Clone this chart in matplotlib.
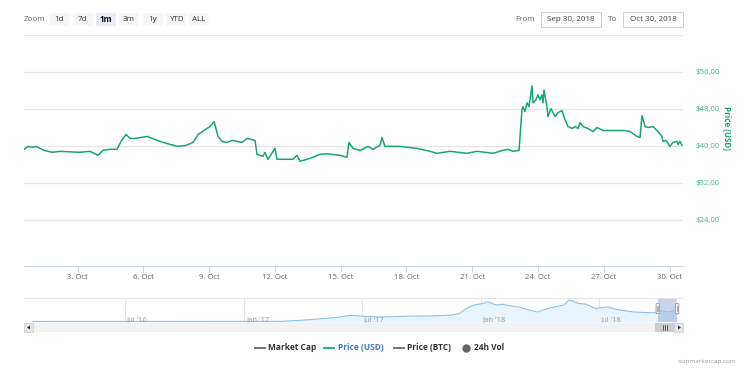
import matplotlib
matplotlib.use("Agg")
import matplotlib.pyplot as plt
import matplotlib.dates as mdates
from matplotlib.patches import FancyBboxPatch, Rectangle, Polygon
from matplotlib.lines import Line2D
from matplotlib.ticker import FixedLocator, FuncFormatter
import pandas as pd

plt.rcParams['font.family'] = ['Open Sans', 'DejaVu Sans']

# price (USD), 30 Sep - 30 Oct 2018
price_times = [
    "09-30 13:24", "09-30 17:48", "09-30 22:12", "10-01 02:36", "10-01 07:00", "10-01 11:18",
    "10-01 20:06", "10-02 04:48", "10-02 15:48", "10-03 02:42", "10-03 13:42", "10-03 22:24",
    "10-04 03:54", "10-04 11:36", "10-04 19:12", "10-04 23:36", "10-05 05:06", "10-05 09:30",
    "10-05 14:54", "10-06 04:06", "10-06 18:18", "10-07 05:12", "10-07 14:00", "10-07 22:42",
    "10-08 06:24", "10-08 11:54", "10-08 18:24", "10-09 01:00", "10-09 05:24", "10-09 09:48",
    "10-09 14:06", "10-09 19:36", "10-10 01:06", "10-10 12:00", "10-10 17:30", "10-11 02:18",
    "10-11 04:24", "10-11 11:00", "10-11 13:12", "10-11 16:30", "10-12 00:06", "10-12 02:18",
    "10-12 11:06", "10-12 19:48", "10-13 00:12", "10-13 03:30", "10-13 11:12", "10-13 17:42",
    "10-14 01:24", "10-14 09:00", "10-14 23:18", "10-15 06:54", "10-15 09:06", "10-15 13:30",
    "10-15 21:12", "10-16 05:54", "10-16 11:24", "10-16 19:06", "10-16 21:12", "10-17 00:30",
    "10-17 16:54", "10-18 11:30", "10-19 01:48", "10-19 09:24", "10-19 23:36", "10-20 18:12",
    "10-21 05:12", "10-21 22:42", "10-22 09:36", "10-22 15:06", "10-22 20:36", "10-23 03:12",
    "10-23 06:24", "10-23 07:30", "10-23 09:42", "10-23 11:54", "10-23 14:06", "10-23 17:24",
    "10-23 18:30", "10-23 21:48", "10-23 23:54", "10-24 02:06", "10-24 04:18", "10-24 05:24",
    "10-24 06:30", "10-24 09:48", "10-24 10:54", "10-24 14:12", "10-24 16:24", "10-24 18:36",
    "10-24 21:54", "10-25 02:12", "10-25 05:30", "10-25 08:48", "10-25 13:12", "10-25 16:30",
    "10-25 19:48", "10-25 21:54", "10-26 01:12", "10-26 06:42", "10-26 12:12", "10-26 16:30",
    "10-26 23:06", "10-27 12:12", "10-27 23:12", "10-28 04:36", "10-28 12:18", "10-28 15:36",
    "10-28 17:48", "10-28 21:06", "10-29 00:24", "10-29 05:48", "10-29 11:18", "10-29 15:42",
    "10-29 16:48", "10-29 20:06", "10-30 00:24", "10-30 03:42", "10-30 08:06", "10-30 09:12",
    "10-30 11:24", "10-30 13:36",
]
price_usd = [
    39.25, 39.89, 39.68, 39.89, 39.46, 39.03,
    38.61, 38.82, 38.71, 38.61, 38.82, 37.96,
    39.03, 39.25, 39.25, 40.97, 42.47, 41.61,
    41.61, 42.04, 40.97, 40.32, 39.89, 40.11,
    40.75, 42.47, 43.33, 44.18, 45.26, 42.04,
    40.97, 40.75, 41.18, 40.75, 41.61, 41.18,
    38.18, 37.75, 38.61, 37.10, 39.46, 37.10,
    37.10, 37.10, 37.96, 36.67, 37.10, 37.53,
    38.18, 38.28, 37.96, 37.53, 40.75, 39.46,
    39.03, 39.89, 39.25, 40.11, 41.82, 39.89,
    39.89, 39.46, 38.82, 38.39, 38.82, 38.39,
    38.82, 38.39, 39.03, 39.25, 38.82, 39.03,
    47.83, 48.48, 47.40, 49.33, 48.48, 52.98,
    49.33, 49.98, 51.05, 49.98, 51.05, 49.33,
    52.12, 48.48, 46.33, 48.05, 47.19, 46.33,
    47.19, 47.62, 45.69, 44.18, 43.76, 44.18,
    43.76, 45.04, 44.18, 43.76, 43.11, 43.97,
    43.33, 43.33, 43.33, 43.11, 42.04, 41.82,
    46.55, 44.18, 43.97, 44.18, 43.11, 42.04,
    40.97, 41.18, 39.89, 40.75, 40.97, 40.32,
    40.97, 40.11,
]

# navigator (full history)
nav_dates = [
    "2016-02-10", "2016-07-01", "2017-01-01", "2017-03-01", "2017-04-14", "2017-05-21",
    "2017-06-15", "2017-07-04", "2017-08-02", "2017-09-08", "2017-10-15", "2017-11-13",
    "2017-11-28", "2017-12-09", "2017-12-20", "2018-01-04", "2018-01-11", "2018-01-25",
    "2018-02-02", "2018-02-17", "2018-03-03", "2018-03-18", "2018-03-29", "2018-04-09",
    "2018-04-24", "2018-05-08", "2018-05-17", "2018-05-31", "2018-06-11", "2018-06-27",
    "2018-07-14", "2018-07-29", "2018-08-23", "2018-09-22", "2018-10-06", "2018-10-17",
    "2018-10-30",
]
nav_price = [
    2.0, 2.2, 2.3, 2.4, 8.5, 15.7,
    24.0, 20.6, 18.0, 20.6, 21.8, 24.2,
    30.0, 48.0, 60.0, 66.5, 72.6, 60.5,
    64.0, 57.0, 52.0, 42.0, 36.0, 45.0,
    54.0, 60.5, 79.0, 66.5, 64.0, 48.4,
    54.0, 45.0, 36.0, 32.7, 40.0, 36.0,
    42.0,
]
nav_labels = ["Jul '16", "Jan '17", "Jul '17", "Jan '18", "Jul '18"]
nav_label_dates = ["2016-07-01", "2017-01-01", "2017-07-01", "2018-01-01", "2018-07-01"]

y_ticks = [24, 32, 40, 48, 56]
x_tick_days = [3, 6, 9, 12, 15, 18, 21, 24, 27, 30]
zoom_buttons = ["1d", "7d", "1m", "3m", "1y", "YTD", "ALL"]
selected_button = "1m"
date_from = "Sep 30, 2018"
date_to = "Oct 30, 2018"
legend_items = ["Market Cap", "Price (USD)", "Price (BTC)", "24h Vol"]

GREEN = "#17a47b"
W, H = 750, 370


def fx(x):
    return x / W


def fy(y):
    return 1 - y / H


fig = plt.figure(figsize=(7.5, 3.7), dpi=100)

# ---- main chart ----
ax = fig.add_axes([fx(24), fy(266), fx(683) - fx(24), fy(35) - fy(266)])
t = pd.to_datetime(["2018-" + s for s in price_times])
ax.plot(t, price_usd, color=GREEN, lw=1.1, solid_joinstyle="round")
ax.set_xlim(pd.Timestamp("2018-09-30 13:24"), pd.Timestamp("2018-10-30 14:40"))
ax.set_ylim(14, 64)
ax.set_yticks(y_ticks + [64])
ax.yaxis.grid(True, color="#e6e6e6", lw=0.9)
ax.set_axisbelow(True)
ax.yaxis.tick_right()
ax.tick_params(axis="y", length=0, pad=9, labelsize=5.6, labelcolor="#48b48f")
ax.yaxis.set_major_formatter(FuncFormatter(lambda v, p: "" if v == 64 else "$%d,00" % v))
xt = [pd.Timestamp(2018, 10, d) for d in x_tick_days]
ax.xaxis.set_major_locator(FixedLocator(mdates.date2num(xt)))
ax.xaxis.set_major_formatter(FuncFormatter(lambda v, p: "%d. Oct" % mdates.num2date(v).day))
ax.tick_params(axis="x", length=4, width=0.8, color="#ccd6eb", labelsize=5.6,
               labelcolor="#666666", pad=2)
for s in ["top", "left", "right"]:
    ax.spines[s].set_visible(False)
ax.spines["bottom"].set_color("#ccd6eb")
fig.text(fx(727), fy(128), "Price (USD)", rotation=270, ha="center", va="center",
         fontsize=5.8, fontweight="bold", color=GREEN)

# ---- navigator ----
nav = fig.add_axes([fx(24), fy(322), fx(683) - fx(24), fy(298) - fy(322)])
nd = pd.to_datetime(nav_dates)
nav.fill_between(nd, nav_price, 0, color="#e9f3fc", lw=0)
nav.plot(nd, nav_price, color="#8cc1ef", lw=0.8)
nav.set_xlim(pd.Timestamp("2016-01-28"), pd.Timestamp("2018-11-08"))
nav.set_ylim(0, 86)
nav.set_xticks([])
nav.set_yticks([])
for s in ["left", "right", "bottom"]:
    nav.spines[s].set_visible(False)
nav.spines["top"].set_color("#e6e6e6")
for lab, d in zip(nav_labels, nav_label_dates):
    nav.axvline(pd.Timestamp(d), color="#e6e6e6", lw=0.8, zorder=0)
    nav.text(pd.Timestamp(d) + pd.Timedelta(days=3), 7, lab, fontsize=5.4, color="#999999",
             ha="left", va="center")
nav.axvspan(pd.Timestamp("2018-09-30"), pd.Timestamp("2018-10-30"),
            color=(102 / 255, 133 / 255, 194 / 255, 0.35), lw=0)
for hx in [pd.Timestamp("2018-09-30"), pd.Timestamp("2018-10-30")]:
    hxn = mdates.date2num(hx)
    handle = FancyBboxPatch((hxn - 2.5, 30), 5, 36, boxstyle="round,pad=0,rounding_size=1",
                            fc="#f2f2f2", ec="#999999", lw=0.6, zorder=5,
                            mutation_aspect=1)
    nav.add_patch(handle)
    for off in (-0.9, 0.9):
        nav.plot([hxn + off, hxn + off], [40, 56], color="#999999", lw=0.5, zorder=6)

# ---- scrollbar ----
fig.add_artist(Rectangle((fx(24), fy(332)), fx(683) - fx(24), fy(323) - fy(332),
                         transform=fig.transFigure, fc="#f2f2f2", ec="none"))
fig.add_artist(Rectangle((fx(655), fy(332)), fx(674) - fx(655), fy(323) - fy(332),
                         transform=fig.transFigure, fc="#cccccc", ec="none"))
for lx in (663, 665, 667):
    fig.add_artist(Line2D([fx(lx), fx(lx)], [fy(330), fy(325)], transform=fig.transFigure,
                          color="#333333", lw=0.5))
for bx in (24, 674):
    fig.add_artist(Rectangle((fx(bx), fy(332)), fx(9), fy(323) - fy(332),
                             transform=fig.transFigure, fc="#e6e6e6", ec="#cccccc", lw=0.5))
fig.add_artist(Polygon([(fx(27), fy(327.5)), (fx(30), fy(325.5)), (fx(30), fy(329.5))],
                       closed=True, transform=fig.transFigure, fc="#333333", ec="none"))
fig.add_artist(Polygon([(fx(681), fy(327.5)), (fx(678), fy(325.5)), (fx(678), fy(329.5))],
                       closed=True, transform=fig.transFigure, fc="#333333", ec="none"))

# ---- range selector ----
fig.text(fx(24), fy(19.5), "Zoom", fontsize=5.8, color="#666666", ha="left", va="center")
btn_left = [49, 73, 96, 119, 143, 166, 189]
for lab, bl in zip(zoom_buttons, btn_left):
    sel = lab == selected_button
    fig.add_artist(FancyBboxPatch((fx(bl), fy(26)), fx(20), fy(13) - fy(26),
                                  boxstyle="round,pad=0,rounding_size=0.003",
                                  transform=fig.transFigure,
                                  fc="#e6ebf5" if sel else "#f7f7f7", ec="none"))
    fig.text(fx(bl + 10), fy(19.5), lab, fontsize=5.8, ha="center", va="center",
             color="#000000" if sel else "#333333", fontweight="bold" if sel else "normal")

fig.text(fx(535), fy(19.5), "From", fontsize=5.8, color="#666666", ha="right", va="center")
fig.text(fx(617), fy(19.5), "To", fontsize=5.8, color="#666666", ha="right", va="center")
for bl, txt in [(541, date_from), (623, date_to)]:
    fig.add_artist(Rectangle((fx(bl), fy(27)), fx(60), fy(12) - fy(27),
                             transform=fig.transFigure, fc="white", ec="#cccccc", lw=0.6))
    fig.text(fx(bl + 30), fy(19.5), txt, fontsize=5.8, color="#444444", ha="center", va="center")

# ---- legend ----
leg_y = fy(348)
marker_colors = ["#666666", GREEN, "#666666"]
marker_x = [255, 324, 394]
text_x = [268, 338, 407]
text_colors = ["#333333", "#3d78c2", "#333333"]
for lab, mx, tx, mc, tc in zip(legend_items[:3], marker_x, text_x, marker_colors, text_colors):
    fig.add_artist(Line2D([fx(mx), fx(mx + 10)], [leg_y, leg_y], transform=fig.transFigure,
                          color=mc, lw=1.3))
    fig.text(fx(tx), leg_y, lab, fontsize=6, fontweight="bold", color=tc, ha="left", va="center")
fig.add_artist(Line2D([fx(466)], [leg_y], transform=fig.transFigure, marker="o", markersize=5,
                      color="#666666", lw=0))
fig.text(fx(474), leg_y, legend_items[3], fontsize=6, fontweight="bold", color="#333333",
         ha="left", va="center")

fig.text(fx(736), fy(362), "coinmarketcap.com", fontsize=4.6, color="#999999",
         ha="right", va="center")

fig.savefig("out.png", dpi=100, facecolor="white")
